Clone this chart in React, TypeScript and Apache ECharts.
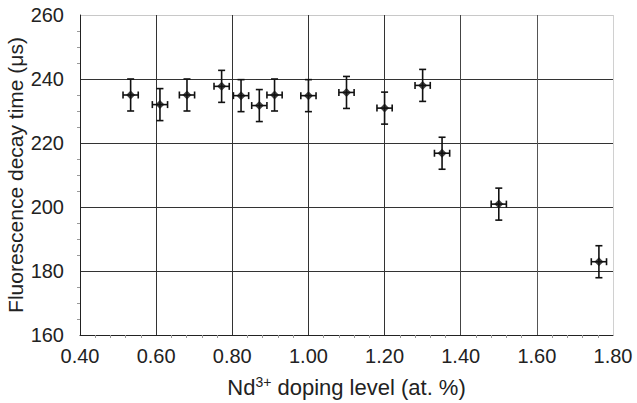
import React, { useEffect, useRef } from "react";
import * as echarts from "echarts";

const dopingLevels = [0.533, 0.61, 0.681, 0.772, 0.823, 0.871, 0.911, 1.0, 1.1, 1.2, 1.3, 1.351, 1.5, 1.763];
const decayTimes = [235, 232, 235, 237.7, 234.8, 231.7, 235, 234.8, 235.8, 230.9, 238, 216.8, 200.9, 182.9];
const xErrors = [0.02, 0.02, 0.02, 0.02, 0.02, 0.02, 0.02, 0.02, 0.02, 0.02, 0.02, 0.02, 0.02, 0.02];
const yErrors = [5, 5, 5, 5, 5, 5, 5, 5, 5, 5, 5, 5, 5, 5];
const xTickLabels = ["0.40", "0.60", "0.80", "1.00", "1.20", "1.40", "1.60", "1.80"];
const yTickLabels = ["160", "180", "200", "220", "240", "260"];

export default function App() {
  const ref = useRef<HTMLDivElement>(null);
  useEffect(() => {
    if (!ref.current) return;
    const chart = echarts.init(ref.current, undefined, { renderer: "svg" });
    const font = "'Liberation Sans', Arial, sans-serif";
    const errData = dopingLevels.map((x, i) => [x, decayTimes[i], xErrors[i], yErrors[i]]);
    chart.setOption({
      animation: false,
      backgroundColor: "#ffffff",
      grid: { left: 80, right: 24, top: 15, bottom: 68, containLabel: false, outerBoundsMode: "none" },
      xAxis: {
        type: "value",
        min: 0.4,
        max: 1.8,
        interval: 0.2,
        axisLine: { show: true, onZero: false, lineStyle: { color: "#222", width: 1 } },
        axisTick: { show: false },
        minorTick: { show: true, splitNumber: 5, length: 3, lineStyle: { color: "#999" } },
        axisLabel: {
          fontFamily: font,
          fontSize: 20,
          color: "#222",
          margin: 11,
          formatter: (v: number) => {
            const idx = Math.round((v - 0.4) / 0.2);
            return xTickLabels[idx] ?? v.toFixed(2);
          },
        },
        splitLine: {
          show: true,
          lineStyle: { color: ["#333", "#333", "#333", "#333", "#333", "#444", "#555", "#d0d0d0"], width: 1 },
        },
        name: "{a|Nd}{s|3+}{a| doping level (at. %)}",
        nameLocation: "middle",
        nameGap: 40,
        nameMoveOverlap: false,
        nameTextStyle: {
          rich: {
            a: { fontFamily: font, fontSize: 22, color: "#222" },
            s: { fontFamily: font, fontSize: 14, color: "#222", verticalAlign: "top", padding: [0, 0, 10, 0] },
          },
        },
      },
      yAxis: {
        type: "value",
        min: 160,
        max: 260,
        interval: 20,
        axisLine: { show: true, lineStyle: { color: "#222", width: 1 } },
        axisTick: { show: false },
        minorTick: { show: true, splitNumber: 4, length: 3, lineStyle: { color: "#999" } },
        axisLabel: {
          fontFamily: font,
          fontSize: 20,
          color: "#222",
          margin: 16,
          formatter: (v: number) => {
            const idx = Math.round((v - 160) / 20);
            return yTickLabels[idx] ?? String(v);
          },
        },
        splitLine: {
          show: true,
          lineStyle: { color: ["#333", "#333", "#333", "#333", "#333", "#c8c8c8"], width: 1 },
        },
        name: "Fluorescence decay time (μs)",
        nameLocation: "middle",
        nameGap: 54,
        nameMoveOverlap: false,
        nameTextStyle: { fontFamily: font, fontSize: 21, color: "#222" },
      },
      series: [
        {
          type: "custom",
          data: errData,
          renderItem: (params: any, api: any) => {
            const x = api.value(0);
            const y = api.value(1);
            const dx = api.value(2);
            const dy = api.value(3);
            const left = api.coord([x - dx, y]);
            const right = api.coord([x + dx, y]);
            const top = api.coord([x, y + dy]);
            const bottom = api.coord([x, y - dy]);
            const cap = 3.5;
            const style = { stroke: "#111", lineWidth: 1.6 };
            return {
              type: "group",
              children: [
                { type: "line", shape: { x1: left[0], y1: left[1], x2: right[0], y2: right[1] }, style },
                { type: "line", shape: { x1: top[0], y1: top[1], x2: bottom[0], y2: bottom[1] }, style },
                { type: "line", shape: { x1: left[0], y1: left[1] - cap, x2: left[0], y2: left[1] + cap }, style },
                { type: "line", shape: { x1: right[0], y1: right[1] - cap, x2: right[0], y2: right[1] + cap }, style },
                { type: "line", shape: { x1: top[0] - cap, y1: top[1], x2: top[0] + cap, y2: top[1] }, style },
                { type: "line", shape: { x1: bottom[0] - cap, y1: bottom[1], x2: bottom[0] + cap, y2: bottom[1] }, style },
              ],
            };
          },
          z: 3,
        },
        {
          type: "scatter",
          data: dopingLevels.map((x, i) => [x, decayTimes[i]]),
          symbol: "diamond",
          symbolSize: 9,
          itemStyle: { color: "#111" },
          z: 4,
        },
      ],
    });
    return () => chart.dispose();
  }, []);
  return (
    <div
      ref={ref}
      style={{ position: "absolute", left: 0, top: 0, width: 637, height: 403 }}
    />
  );
}
